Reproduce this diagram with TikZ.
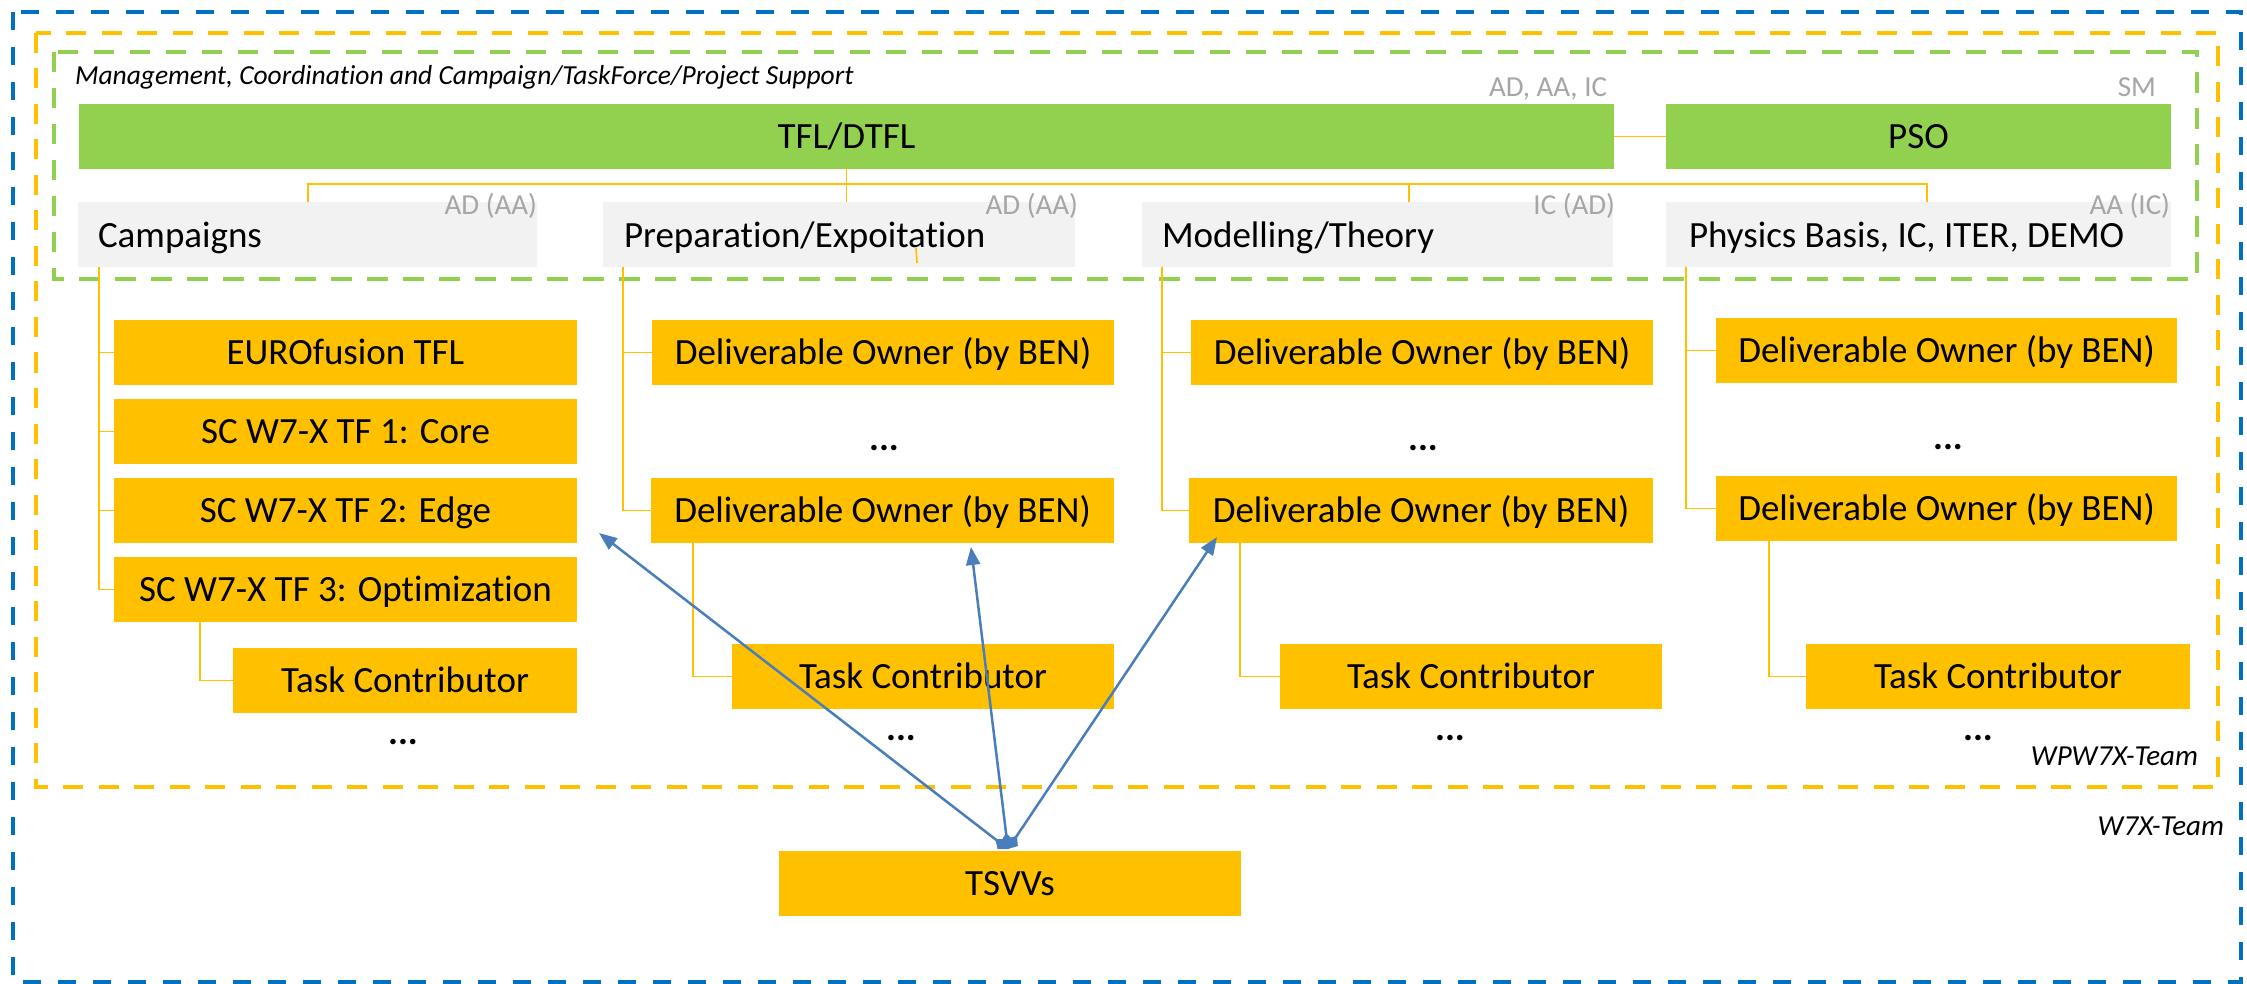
\documentclass[tikz,border=0pt]{standalone}
\usepackage{fontspec}
\setmainfont{Carlito}[Ligatures=NoCommon]
\usetikzlibrary{arrows.meta}

\definecolor{teamblue}{HTML}{0070C0}
\definecolor{wporange}{HTML}{FFC000}
\definecolor{mgmtgreen}{HTML}{92D050}
\definecolor{rolegray}{HTML}{F2F2F2}
\definecolor{labelgray}{HTML}{A6A6A6}
\definecolor{linkblue}{HTML}{4A7EBB}

\newcommand{\orgboxfont}{\fontsize{37}{44}\selectfont}
\newcommand{\orgtagfont}{\fontsize{29}{34}\selectfont\color{labelgray}}
\newcommand{\orgnotefont}{\fontsize{29}{34}\selectfont\itshape}
\newcommand{\orgtitlefont}{\fontsize{27.5}{33}\selectfont\itshape}

% box given by its corners: name, style, x1, y1, x2, y2, text
\newcommand{\orgbox}[7]{%
  \node[#2, minimum width={#5-#3}, minimum height={#6-#4}] (#1)
    at ({(#3+#5)/2},{(#4+#6)/2}) {#7};}

\begin{document}
\begin{tikzpicture}[x=1pt, y=-1pt,
  frame/.style={line width=4pt},
  filledbox/.style={draw=none, inner sep=0pt, outer sep=0pt, font=\orgboxfont,
    text height=23.8pt, text depth=0pt},
  mgmtbox/.style={filledbox, fill=mgmtgreen},
  rolebox/.style={filledbox, fill=rolegray},
  wpbox/.style={filledbox, fill=wporange},
  plain/.style={inner sep=0pt, outer sep=0pt},
  roletext/.style={plain, font=\orgboxfont, anchor=base west},
  roletag/.style={plain, font=\orgtagfont, anchor=base east},
  more/.style={plain, font=\orgboxfont\bfseries},
  tree/.style={draw=wporange, line width=1.7pt},
  link/.style={draw=linkblue, line width=2.5pt,
    {Diamond[length=16pt,width=13pt]}-{Triangle[length=18pt,width=14pt]}},
]
\useasboundingbox (0,0) rectangle (2247,984);

% team frames
\draw[frame, teamblue, dash pattern=on 18pt off 17pt] (13,12) rectangle (2241,982);
\draw[frame, wporange, dash pattern=on 20pt off 15.5pt] (36,33) rectangle (2218,787);
\draw[frame, mgmtgreen, dash pattern=on 20.5pt off 15.5pt] (54,52) rectangle (2197,279);

\node[plain, font=\orgtitlefont, anchor=base west] (mgmttitle) at (75,85)
  {Management, Coordination and Campaign/TaskForce/Project Support};
\node[plain, font=\orgnotefont, anchor=base east] (wpteam) at (2198,765) {WPW7X-Team};
\node[plain, font=\orgnotefont, anchor=base east] (w7xteam) at (2224,835) {W7X-Team};

% management level
\orgbox{tfl}{mgmtbox}{79}{104}{1614}{169}{TFL/DTFL}
\orgbox{pso}{mgmtbox}{1666}{104}{2171}{169}{PSO}
\node[roletag] (tfltag) at (1607,97) {AD, AA, IC};
\node[roletag] (psotag) at (2156,97) {SM};

% task force areas
\orgbox{camp}{rolebox}{78}{202}{537}{267}{}
\orgbox{prep}{rolebox}{603}{202}{1075}{267}{}
\orgbox{model}{rolebox}{1142}{202}{1613}{267}{}
\orgbox{phys}{rolebox}{1666}{202}{2171}{267}{}
\node[roletext] (camptxt) at (98,248) {Campaigns};
\node[roletext] (preptxt) at (624,248) {Preparation/Expoitation};
\node[roletext] (modeltxt) at (1162,248) {Modelling/Theory};
\node[roletext] (phystxt) at (1689,248) {Physics Basis, IC, ITER, DEMO};
\node[roletag] (camptag) at (537,215) {AD (AA)};
\node[roletag] (preptag) at (1078,215) {AD (AA)};
\node[roletag] (modeltag) at (1615,215) {IC (AD)};
\node[roletag] (phystag) at (2170,215) {AA (IC)};

% campaigns column
\orgbox{euro}{wpbox}{114}{320}{577}{385}{EUROfusion TFL}
\orgbox{core}{wpbox}{114}{399}{577}{464}{SC W7-X TF 1: Core}
\orgbox{edge}{wpbox}{114}{478}{577}{543}{SC W7-X TF 2: Edge}
\orgbox{opt}{wpbox}{114}{557}{577}{622}{SC W7-X TF 3: Optimization}
\orgbox{camptc}{wpbox}{233}{648}{577}{713}{Task Contributor}
\node[more] (campmore) at (403,742) {...};

% preparation column
\orgbox{prepdo}{wpbox}{652}{320}{1114}{385}{Deliverable Owner (by BEN)}
\orgbox{prepdolast}{wpbox}{651}{478}{1114}{543}{Deliverable Owner (by BEN)}
\orgbox{preptc}{wpbox}{732}{644}{1114}{709}{Task Contributor}
\node[more] (prepdomore) at (884,448) {...};
\node[more] (preptcmore) at (901,738) {...};

% modelling column
\orgbox{modeldo}{wpbox}{1191}{320}{1653}{385}{Deliverable Owner (by BEN)}
\orgbox{modeldolast}{wpbox}{1189}{478}{1653}{543}{Deliverable Owner (by BEN)}
\orgbox{modeltc}{wpbox}{1280}{644}{1662}{709}{Task Contributor}
\node[more] (modeldomore) at (1423,448) {...};
\node[more] (modeltcmore) at (1450,738) {...};

% physics column
\orgbox{physdo}{wpbox}{1716}{318}{2177}{383}{Deliverable Owner (by BEN)}
\orgbox{physdolast}{wpbox}{1716}{476}{2177}{541}{Deliverable Owner (by BEN)}
\orgbox{phystc}{wpbox}{1806}{644}{2190}{709}{Task Contributor}
\node[more] (physdomore) at (1948,447) {...};
\node[more] (phystcmore) at (1978,738) {...};

% TSVVs
\orgbox{tsvv}{wpbox}{779}{851}{1241}{916}{TSVVs}

% management tree
\coordinate (busL) at (308,184);
\coordinate (busM) at (1409,184);
\coordinate (busR) at (1927,184);
\draw[tree] (tfl) -- (pso);
\draw[tree] (tfl.south) -- (tfl.south |- prep.north);
\draw[tree] (busL |- camp.north) -- (busL) -- (busR) -- (busR |- phys.north);
\draw[tree] (busM) -- (busM |- model.north);
\draw[tree] (916,248) -- (917,263);

% column trees
\coordinate (campx) at (99,0);
\coordinate (prepx) at (623,0);
\coordinate (modelx) at (1162,0);
\coordinate (physx) at (1686,0);
\foreach \b in {euro,core,edge,opt} \draw[tree] (camp.south -| campx) |- (\b.west);
\foreach \b in {prepdo,prepdolast} \draw[tree] (prep.south -| prepx) |- (\b.west);
\foreach \b in {modeldo,modeldolast} \draw[tree] (model.south -| modelx) |- (\b.west);
\foreach \b in {physdo,physdolast} \draw[tree] (phys.south -| physx) |- (\b.west);
\draw[tree] (opt.south -| 200,0) |- (camptc.west);
\draw[tree] (prepdolast.south -| 693,0) |- (preptc.west);
\draw[tree] (modeldolast.south -| 1240,0) |- (modeltc.west);
\draw[tree] (physdolast.south -| 1769,0) |- (phystc.west);

% links from the TSVVs
\coordinate (tsvvtop) at (1008,849);
\coordinate (edgetip) at (599,533);
\coordinate (preptip) at (971,547);
\coordinate (modeltip) at (1217,537);
\draw[link] (tsvvtop) -- (edgetip);
\draw[link] (tsvvtop) -- (preptip);
\draw[link] (tsvvtop) -- (modeltip);
\end{tikzpicture}
\end{document}
